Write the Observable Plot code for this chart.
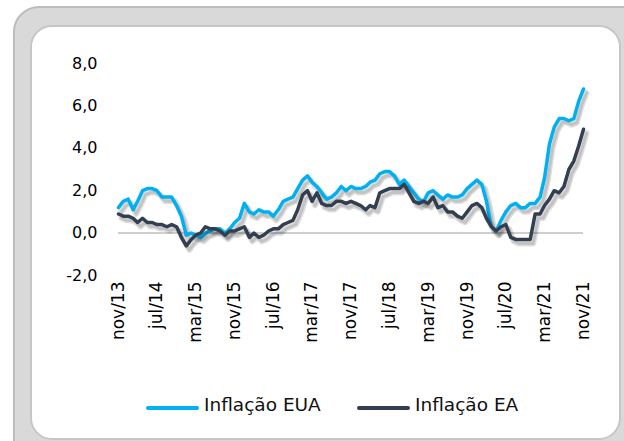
<!DOCTYPE html>
<html><head><meta charset="utf-8">
<script src="https://cdn.jsdelivr.net/npm/d3@7"></script>
<script src="https://cdn.jsdelivr.net/npm/@observablehq/plot@0.6"></script>
<style>
html,body{margin:0;padding:0;}
body{width:624px;height:441px;overflow:hidden;position:relative;background:#fff;font-family:"DejaVu Sans",sans-serif;}
#outer{position:absolute;left:13px;top:6px;width:720px;height:520px;background:#d9d9d9;border:2px solid #bcbcbc;border-radius:26px;box-sizing:border-box;}
#inner{position:absolute;left:30px;top:25px;width:591px;height:415px;background:#fff;border:2px solid #c6c6c6;border-radius:22px;box-sizing:border-box;}
#chart{position:absolute;left:0;top:0;}
.leg-line{position:absolute;height:4px;border-radius:2px;}
.leg-text{position:absolute;font-size:18.5px;color:#111;line-height:20px;white-space:nowrap;}
</style>
</head><body>
<div id="outer"></div>
<div id="inner"></div>
<div id="chart"></div>
<div class="leg-line" style="left:146px;top:406px;width:53px;background:#00b0f0"></div>
<div class="leg-text" style="left:204px;top:395px;">Inflação EUA</div>
<div class="leg-line" style="left:357px;top:406px;width:53px;background:#333f50"></div>
<div class="leg-text" style="left:415px;top:395px;">Inflação EA</div>
<script>
// Monthly series, nov/13 .. nov/21
const startMonth = "2013-11";
const inflacaoEUA = [1.2,1.5,1.6,1.1,1.5,2.0,2.1,2.1,2.0,1.7,1.7,1.7,1.3,0.8,
 -0.1,0.0,-0.1,-0.2,0.0,0.1,0.2,0.2,0.0,0.2,0.5,0.7,
 1.4,1.0,0.9,1.1,1.0,1.0,0.8,1.1,1.5,1.6,1.7,2.1,
 2.5,2.7,2.4,2.2,1.9,1.6,1.7,1.9,2.2,2.0,2.2,2.1,
 2.1,2.2,2.4,2.5,2.8,2.9,2.9,2.7,2.3,2.5,2.2,1.9,
 1.6,1.5,1.9,2.0,1.8,1.6,1.8,1.7,1.7,1.8,2.1,2.3,
 2.5,2.3,1.5,0.3,0.1,0.6,1.0,1.3,1.4,1.2,1.2,1.4,
 1.4,1.7,2.6,4.2,5.0,5.4,5.4,5.3,5.4,6.2,6.8];
const inflacaoEA = [0.9,0.8,0.8,0.7,0.5,0.7,0.5,0.5,0.4,0.4,0.3,0.4,0.3,-0.2,
 -0.6,-0.3,-0.1,0.0,0.3,0.2,0.2,0.1,-0.1,0.1,0.1,0.2,
 0.3,-0.2,0.0,-0.2,-0.1,0.1,0.2,0.2,0.4,0.5,0.6,1.1,
 1.8,2.0,1.5,1.9,1.4,1.3,1.3,1.5,1.5,1.4,1.5,1.4,
 1.3,1.1,1.3,1.2,1.9,2.0,2.1,2.1,2.1,2.3,1.9,1.5,
 1.4,1.5,1.4,1.7,1.2,1.3,1.0,1.0,0.8,0.7,1.0,1.3,
 1.4,1.2,0.7,0.3,0.1,0.3,0.4,-0.2,-0.3,-0.3,-0.3,-0.3,
 0.9,0.9,1.3,1.6,2.0,1.9,2.2,3.0,3.4,4.1,4.9];
const tickLabels = ["nov/13","jul/14","mar/15","nov/15","jul/16","mar/17","nov/17","jul/18","mar/19","nov/19","jul/20","mar/21","nov/21"];
const yTicks = [-2,0,2,4,6,8];
const mesesPt = ["jan","fev","mar","abr","mai","jun","jul","ago","set","out","nov","dez"];

const [sy, sm] = startMonth.split("-").map(Number);
const monthDate = i => new Date(Date.UTC(sy, sm - 1 + i, 1));
const toRows = (arr, serie) => arr.map((v, i) => ({date: monthDate(i), value: v, serie}));
const rowsEUA = toRows(inflacaoEUA, "Inflação EUA");
const rowsEA = toRows(inflacaoEA, "Inflação EA");
const tickDates = tickLabels.map(s => {
  const [m, y] = s.split("/");
  return new Date(Date.UTC(2000 + Number(y), mesesPt.indexOf(m), 1));
});
const fmtX = d => mesesPt[d.getUTCMonth()] + "/" + String(d.getUTCFullYear() % 100).padStart(2, "0");
const fmtY = d => d.toFixed(1).replace(".", ",");

const shadow = {x: "date", y: "value", stroke: "#000", strokeOpacity: 0.13, strokeWidth: 6, dx: 3, dy: 4};
const shadowCore = {x: "date", y: "value", stroke: "#000", strokeOpacity: 0.12, strokeWidth: 3, dx: 3, dy: 4};
const chart = Plot.plot({
  width: 624, height: 345,
  marginLeft: 118, marginRight: 41, marginTop: 63, marginBottom: 70,
  style: {fontFamily: "DejaVu Sans, sans-serif", fontSize: "16px", color: "#000", background: "transparent", overflow: "visible"},
  x: {type: "utc", domain: [rowsEUA[0].date, rowsEUA[rowsEUA.length - 1].date], ticks: tickDates, tickFormat: fmtX, tickRotate: -90, tickSize: 0, tickPadding: 6, label: null},
  y: {domain: [-2, 8], ticks: yTicks, tickFormat: fmtY, tickSize: 0, tickPadding: 21, label: null},
  marks: [
    Plot.ruleY([0], {stroke: "#bfbfbf", strokeWidth: 1.5}),
    Plot.lineY(rowsEUA, shadow),
    Plot.lineY(rowsEUA, shadowCore),
    Plot.lineY(rowsEUA, {x: "date", y: "value", stroke: "#00b0f0", strokeWidth: 3.5, strokeLinejoin: "round", strokeLinecap: "round"}),
    Plot.lineY(rowsEA, shadow),
    Plot.lineY(rowsEA, shadowCore),
    Plot.lineY(rowsEA, {x: "date", y: "value", stroke: "#333f50", strokeWidth: 3.5, strokeLinejoin: "round", strokeLinecap: "round"})
  ]
});
d3.select(chart).selectAll("text").each(function() {
  if (tickLabels.includes(this.textContent)) this.setAttribute("font-size", "17");
});
document.getElementById("chart").appendChild(chart);
</script>
</body></html>
